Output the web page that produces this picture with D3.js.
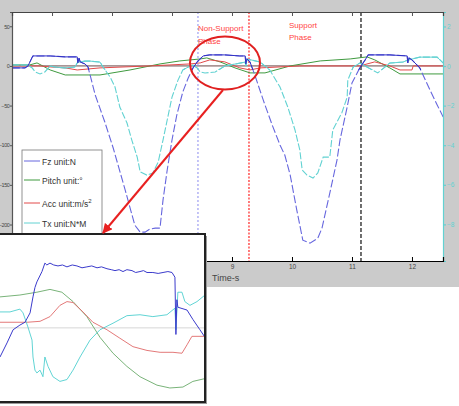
<!DOCTYPE html>
<html>
<head>
<meta charset="UTF-8">
<title>Fz / Pitch / Acc / Tx over time</title>
<script src="https://d3js.org/d3.v7.min.js"></script>
<style>
  body { margin: 0; padding: 0; background: #fff; }
  svg { display: block; font-family: "Liberation Sans", Arial, sans-serif; }
</style>
</head>
<body>
<svg id="chart" width="459" height="406"></svg>
<script>
// ---- data: [time s, value] ----
const fzMain = [[5.33,-2.5],[5.55,-2.5],[5.60,0],[5.68,12.6],[5.97,12.6],[6.22,11.4],[6.42,11.4],[6.43,3.8],[6.45,10],[6.47,5],
  [6.55,2.5],[6.60,-1.3],[6.72,-36.6],[6.88,-70.7],[7.02,-103.5],[7.22,-156.6],[7.38,-200.8],[7.47,-209.6],[7.55,-209.6],
  [7.63,-205.8],[7.72,-204.5],[7.80,-204.5],[7.85,-169.2],[7.92,-131.3],[8.00,-93.4],[8.08,-61.9],[8.18,-32.8],[8.27,-15.2],
  [8.35,-2.5],[8.42,5],[8.52,12.6],[8.63,13.9],[8.88,13.9],[9.13,12.6],[9.22,12.6],[9.23,2.5],[9.25,8.8],[9.30,5],
  [9.38,-11.4],[9.52,-42.9],[9.67,-74.5],[9.80,-99.7],[9.88,-112.4],[9.97,-137.6],[10.08,-181.8],[10.18,-219.7],[10.30,-223.5],
  [10.43,-217.2],[10.50,-204.5],[10.63,-160.3],[10.75,-118.7],[10.80,-93.4],[10.92,-51.8],[11.00,-21.5],[11.13,-2.5],
  [11.22,7.6],[11.27,13.9],[11.63,13.9],[11.92,12.6],[11.93,3.8],[11.95,10],[12.00,7.6],[12.13,-2.5],[12.30,-30.3],
  [12.42,-49.2],[12.52,-64.4]];
const pitchMain = [[5.33,1.3],[5.63,1.3],[5.75,3.8],[5.97,-5.1],[6.22,-11.4],[6.80,-11.4],[7.30,-5.1],[7.80,2.5],[8.13,6.3],
  [8.47,8.8],[8.58,10.1],[8.80,5.1],[9.05,-2.5],[9.30,-8.8],[9.55,-8.8],[9.97,0],[10.47,6.3],[10.97,8.8],[11.25,11.4],
  [11.38,7.6],[11.63,-2.5],[11.80,-10.1],[12.52,-10.1]];
const accMain = [[5.33,0],[5.80,0],[5.97,-1.3],[6.22,-2.5],[6.42,-5.1],[6.80,-2.5],[7.63,0],[8.30,2.5],[8.47,3.8],[8.63,7.6],
  [8.88,5.1],[9.13,-2.5],[9.30,-5.1],[9.47,-2.5],[10.13,0],[11.13,0],[11.38,5.1],[11.63,0],[11.80,-5.1],[12.00,-5.1],
  [12.02,0],[12.52,0]];
const txMain = [[5.33,0.05],[5.60,0.05],[5.67,-0.10],[5.72,-0.30],[5.80,-0.40],[5.88,-0.30],[5.97,0],[6.05,-0.05],[6.22,-0.10],
  [6.38,-0.05],[6.43,0.20],[6.55,0.25],[6.63,0.25],[6.80,0.20],[6.85,-0.05],[6.97,-0.56],[7.05,-1.06],[7.13,-2.07],[7.25,-2.88],
  [7.33,-3.74],[7.42,-4.60],[7.47,-5.35],[7.58,-5.51],[7.68,-5.40],[7.77,-4.85],[7.85,-3.74],[7.93,-2.58],[8.00,-1.57],
  [8.10,-0.71],[8.18,-0.20],[8.27,-0.05],[8.35,0.05],[8.42,-0.10],[8.47,-0.30],[8.55,-0.35],[8.72,-0.30],[8.88,0],[9.05,0.10],
  [9.22,0.20],[9.23,0],[9.25,0.35],[9.33,0.30],[9.47,0.20],[9.63,-0.20],[9.80,-1.06],[9.93,-2.07],[10.05,-3.23],[10.13,-4.24],
  [10.17,-5.25],[10.25,-5.51],[10.35,-5.66],[10.43,-5.40],[10.52,-4.60],[10.63,-4.60],[10.68,-3.23],[10.83,-2.37],[10.92,-1.57],
  [10.93,-0.71],[11.02,-0.05],[11.13,0.15],[11.25,-0.05],[11.43,-0.35],[11.63,0.15],[11.85,0.20],[11.93,0.30],[12.13,0.45],
  [12.42,0.45],[12.52,0.15]];

// zoomed view of the non-support phase (relative amplitude)
const insetFz = [[8.35,-31],[8.386,-16],[8.417,-2],[8.452,3],[8.478,6],[8.504,16],[8.519,33],[8.529,43],[8.539,49],[8.565,60],
  [8.58,69],[8.59,67],[8.606,69],[8.625,67],[8.647,66],[8.67,67],[8.693,65],[8.72,67],[8.744,66],[8.77,64],[8.795,65],
  [8.82,66],[8.847,64],[8.87,65],[8.898,63],[8.92,62],[8.939,61],[8.96,62],[8.98,60],[9.0,62],[9.026,61],[9.045,59],
  [9.067,60],[9.085,61],[9.103,59],[9.133,59],[9.16,58],[9.185,59],[9.21,60],[9.231,59],[9.246,54],[9.251,-7],[9.256,30],
  [9.261,22],[9.308,19],[9.338,9],[9.374,-2],[9.40,-10]];
const insetPitch = [[8.35,33],[8.452,35],[8.539,38],[8.606,41],[8.667,38],[8.724,28],[8.795,12],[8.862,-10],[8.929,-27],
  [9.0,-41],[9.067,-52],[9.154,-61],[9.22,-64],[9.287,-63],[9.338,-57],[9.40,-54]];
const insetAcc = [[8.35,6],[8.488,6],[8.555,7],[8.606,12],[8.657,24],[8.693,28],[8.724,27],[8.775,17],[8.826,6],[8.898,-2],
  [8.964,-11],[9.031,-20],[9.103,-24],[9.17,-26],[9.236,-26],[9.282,-27],[9.308,-18],[9.333,-9],[9.40,-9]];
const insetTx = [[8.35,17],[8.401,17],[8.452,20],[8.468,16],[8.493,1],[8.514,-13],[8.519,-31],[8.529,-45],[8.539,-48],
  [8.555,-45],[8.57,-52],[8.58,-31],[8.596,-41],[8.621,-52],[8.657,-57],[8.693,-55],[8.724,-45],[8.76,-31],[8.811,-13],
  [8.862,-2],[8.929,5],[9.0,13],[9.067,14],[9.133,12],[9.205,14],[9.246,21],[9.251,-2],[9.261,38],[9.282,38],[9.297,28],
  [9.323,24],[9.359,28],[9.40,35]];

const leftTicks = [50, 0, -50, -100, -150, -200];
const rightTicks = [2, 0, -2, -4, -6, -8];
const timeTicks = [6, 7, 8, 9, 10, 11, 12];
const timeLabels = [9, 10, 11, 12];
const legendLabels = ["Fz unit:N", "Pitch unit:°", "Acc unit:m/s", "Tx unit:N*M"];
const phaseTimes = [8.433, 9.283, 11.15];

// ---- layout ----
const svg = d3.select("#chart");
const plot = {l: 12, t: 12, r: 443, b: 261};
const x = d3.scaleLinear().domain([5.333, 12.517]).range([plot.l, plot.r]);
const yL = d3.scaleLinear().domain([-246, 68]).range([plot.b, plot.t]);
const yR = d3.scaleLinear().domain([-9.85, 2.73]).range([plot.b, plot.t]);
const colors = {fz: "#6666de", fzDark: "#3030c4", pitch: "#3f9a3f", acc: "#e24a4a", tx: "#62d2d2"};

svg.append("rect").attr("width", 459).attr("height", 287).attr("fill", "#cbcbcb");
svg.append("rect").attr("x", plot.l).attr("y", plot.t)
  .attr("width", plot.r - plot.l).attr("height", plot.b - plot.t).attr("fill", "#fff");

const defs = svg.append("defs");
defs.append("clipPath").attr("id", "clipMain").append("rect")
  .attr("x", plot.l).attr("y", plot.t).attr("width", plot.r - plot.l).attr("height", plot.b - plot.t);
// band near zero where the traces look solid
defs.append("clipPath").attr("id", "clipTop").append("rect")
  .attr("x", plot.l).attr("y", plot.t).attr("width", plot.r - plot.l).attr("height", 58);
const main = svg.append("g").attr("clip-path", "url(#clipMain)");

// zero line
main.append("line").attr("x1", plot.l).attr("x2", plot.r).attr("y1", yL(0)).attr("y2", yL(0))
  .attr("stroke", "#6a4a4a").attr("stroke-width", 1);

// phase markers
const phaseStyle = [
  {c: "#8a8aee", d: "2,2", w: 1},
  {c: "#ff5a5a", d: "2,1.5", w: 1.6},
  {c: "#222", d: "4,2", w: 1.3}
];
phaseTimes.forEach((t, i) => {
  main.append("line").attr("x1", x(t)).attr("x2", x(t)).attr("y1", plot.t).attr("y2", plot.b)
    .attr("stroke", phaseStyle[i].c).attr("stroke-dasharray", phaseStyle[i].d)
    .attr("stroke-width", phaseStyle[i].w);
});

const lineL = d3.line().x(d => x(d[0])).y(d => yL(d[1]));
const lineR = d3.line().x(d => x(d[0])).y(d => yR(d[1]));

main.append("path").datum(pitchMain).attr("d", lineL).attr("fill", "none").attr("stroke", colors.pitch).attr("stroke-width", 1);
main.append("path").datum(accMain).attr("d", lineL).attr("fill", "none").attr("stroke", colors.acc).attr("stroke-width", 1);
main.append("path").datum(txMain).attr("d", lineR).attr("fill", "none").attr("stroke", colors.tx)
  .attr("stroke-width", 1.1).attr("stroke-dasharray", "7,2");
main.append("path").datum(fzMain).attr("d", lineL).attr("fill", "none").attr("stroke", colors.fz)
  .attr("stroke-width", 1.1).attr("stroke-dasharray", "8,2.5");
const solidBand = svg.append("g").attr("clip-path", "url(#clipTop)");
solidBand.append("path").datum(txMain).attr("d", lineR).attr("fill", "none").attr("stroke", colors.tx).attr("stroke-width", 1);
solidBand.append("path").datum(fzMain).attr("d", lineL).attr("fill", "none").attr("stroke", colors.fzDark).attr("stroke-width", 1);

// axes
const axL = svg.append("g").attr("transform", `translate(${plot.l},0)`)
  .call(d3.axisLeft(yL).tickValues(leftTicks).tickSize(2).tickPadding(0.5));
const axR = svg.append("g").attr("transform", `translate(${plot.r},0)`)
  .call(d3.axisRight(yR).tickValues(rightTicks).tickSize(3).tickPadding(1));
const axT = svg.append("g").attr("transform", `translate(0,${plot.t})`)
  .call(d3.axisBottom(x).tickValues(timeTicks).tickSize(4).tickFormat(""));
const axB = svg.append("g").attr("transform", `translate(0,${plot.b})`)
  .call(d3.axisBottom(x).tickValues(timeLabels).tickSize(0).tickPadding(3));
svg.append("g").attr("transform", `translate(0,${plot.b})`)
  .call(d3.axisTop(x).tickValues(timeTicks).tickSize(4).tickFormat(""));

[axL, axT, axB].forEach(a => {
  a.selectAll("path,line").attr("stroke", "#555");
  a.selectAll("text").attr("fill", "#444").style("font-size", "6.5px");
});
axL.selectAll("text").style("font-size", "5.5px").style("letter-spacing", "-0.4px");
axT.select("path").attr("stroke", "#444");
axR.selectAll("path,line").attr("stroke", colors.tx).attr("stroke-width", 1.2);
axR.selectAll("text").attr("fill", colors.tx).style("font-size", "6.5px");
svg.selectAll(".domain").attr("stroke-width", 1.2);

svg.append("text").attr("x", 212).attr("y", 281).attr("fill", "#444")
  .style("font-size", "9px").text("Time-s");

// legend
const legend = svg.append("g");
legend.append("rect").attr("x", 22).attr("y", 150).attr("width", 80).attr("height", 100)
  .attr("fill", "#fff").attr("stroke", "#777").attr("stroke-width", 0.8);
const legendY = [161, 180, 203, 223];
const legendColors = [colors.fz, colors.pitch, colors.acc, colors.tx];
legendLabels.forEach((lab, i) => {
  legend.append("line").attr("x1", 24).attr("x2", 40).attr("y1", legendY[i]).attr("y2", legendY[i])
    .attr("stroke", legendColors[i]).attr("stroke-width", 1);
  const tx = legend.append("text").attr("x", 42).attr("y", legendY[i] + 3.5).attr("fill", "#333")
    .style("font-size", "8.5px").text(lab);
  if (i === 2) tx.append("tspan").attr("dy", -4).style("font-size", "6px").text("2");
});

// phase annotations
const note = svg.append("g").attr("fill", "#ff4444").style("font-size", "8px");
note.append("text").attr("x", 198).attr("y", 31).text("Non-Support");
note.append("text").attr("x", 198).attr("y", 44).text("Phase");
note.append("text").attr("x", 289).attr("y", 28).text("Support");
note.append("text").attr("x", 289).attr("y", 40).text("Phase");

// highlight ellipse
svg.append("ellipse").attr("cx", 225).attr("cy", 63).attr("rx", 35).attr("ry", 26.5)
  .attr("fill", "none").attr("stroke", "#e02020").attr("stroke-width", 2);

// inset (zoomed view)
const ins = {l: -2, t: 234, r: 205, b: 402};
const xi = d3.scaleLinear().domain([8.35, 9.40]).range([0, 205]);
const yi = d3.scaleLinear().domain([-80, 100]).range([403, 234]);
svg.append("rect").attr("x", ins.l + 2).attr("y", ins.t + 2).attr("width", ins.r - ins.l).attr("height", ins.b - ins.t)
  .attr("fill", "#999");
svg.append("rect").attr("x", ins.l).attr("y", ins.t).attr("width", ins.r - ins.l).attr("height", ins.b - ins.t)
  .attr("fill", "#fff");
defs.append("clipPath").attr("id", "clipInset").append("rect")
  .attr("x", ins.l).attr("y", ins.t).attr("width", ins.r - ins.l).attr("height", ins.b - ins.t);
const inset = svg.append("g").attr("clip-path", "url(#clipInset)");
inset.append("line").attr("x1", ins.l).attr("x2", ins.r).attr("y1", yi(0)).attr("y2", yi(0))
  .attr("stroke", "#d6d6d6").attr("stroke-width", 1);
const lineI = d3.line().x(d => xi(d[0])).y(d => yi(d[1]));
inset.append("path").datum(insetPitch).attr("d", lineI).attr("fill", "none").attr("stroke", "#6aaa6a").attr("stroke-width", 0.9);
inset.append("path").datum(insetAcc).attr("d", lineI).attr("fill", "none").attr("stroke", "#e06a6a").attr("stroke-width", 0.9);
inset.append("path").datum(insetTx).attr("d", lineI).attr("fill", "none").attr("stroke", "#4fcfcf").attr("stroke-width", 0.9);
inset.append("path").datum(insetFz).attr("d", lineI).attr("fill", "none").attr("stroke", "#3b3bcc").attr("stroke-width", 1);
svg.append("rect").attr("x", ins.l).attr("y", ins.t).attr("width", ins.r - ins.l).attr("height", ins.b - ins.t)
  .attr("fill", "none").attr("stroke", "#222").attr("stroke-width", 2);

// arrow from ellipse to inset
defs.append("marker").attr("id", "head").attr("viewBox", "0 0 10 10")
  .attr("refX", 9).attr("refY", 5).attr("markerWidth", 5).attr("markerHeight", 5).attr("orient", "auto")
  .append("path").attr("d", "M0,0L10,5L0,10z").attr("fill", "#e82020");
svg.append("line").attr("x1", 223).attr("y1", 90).attr("x2", 103).attr("y2", 233)
  .attr("stroke", "#e82020").attr("stroke-width", 2).attr("marker-end", "url(#head)");
</script>
</body>
</html>
